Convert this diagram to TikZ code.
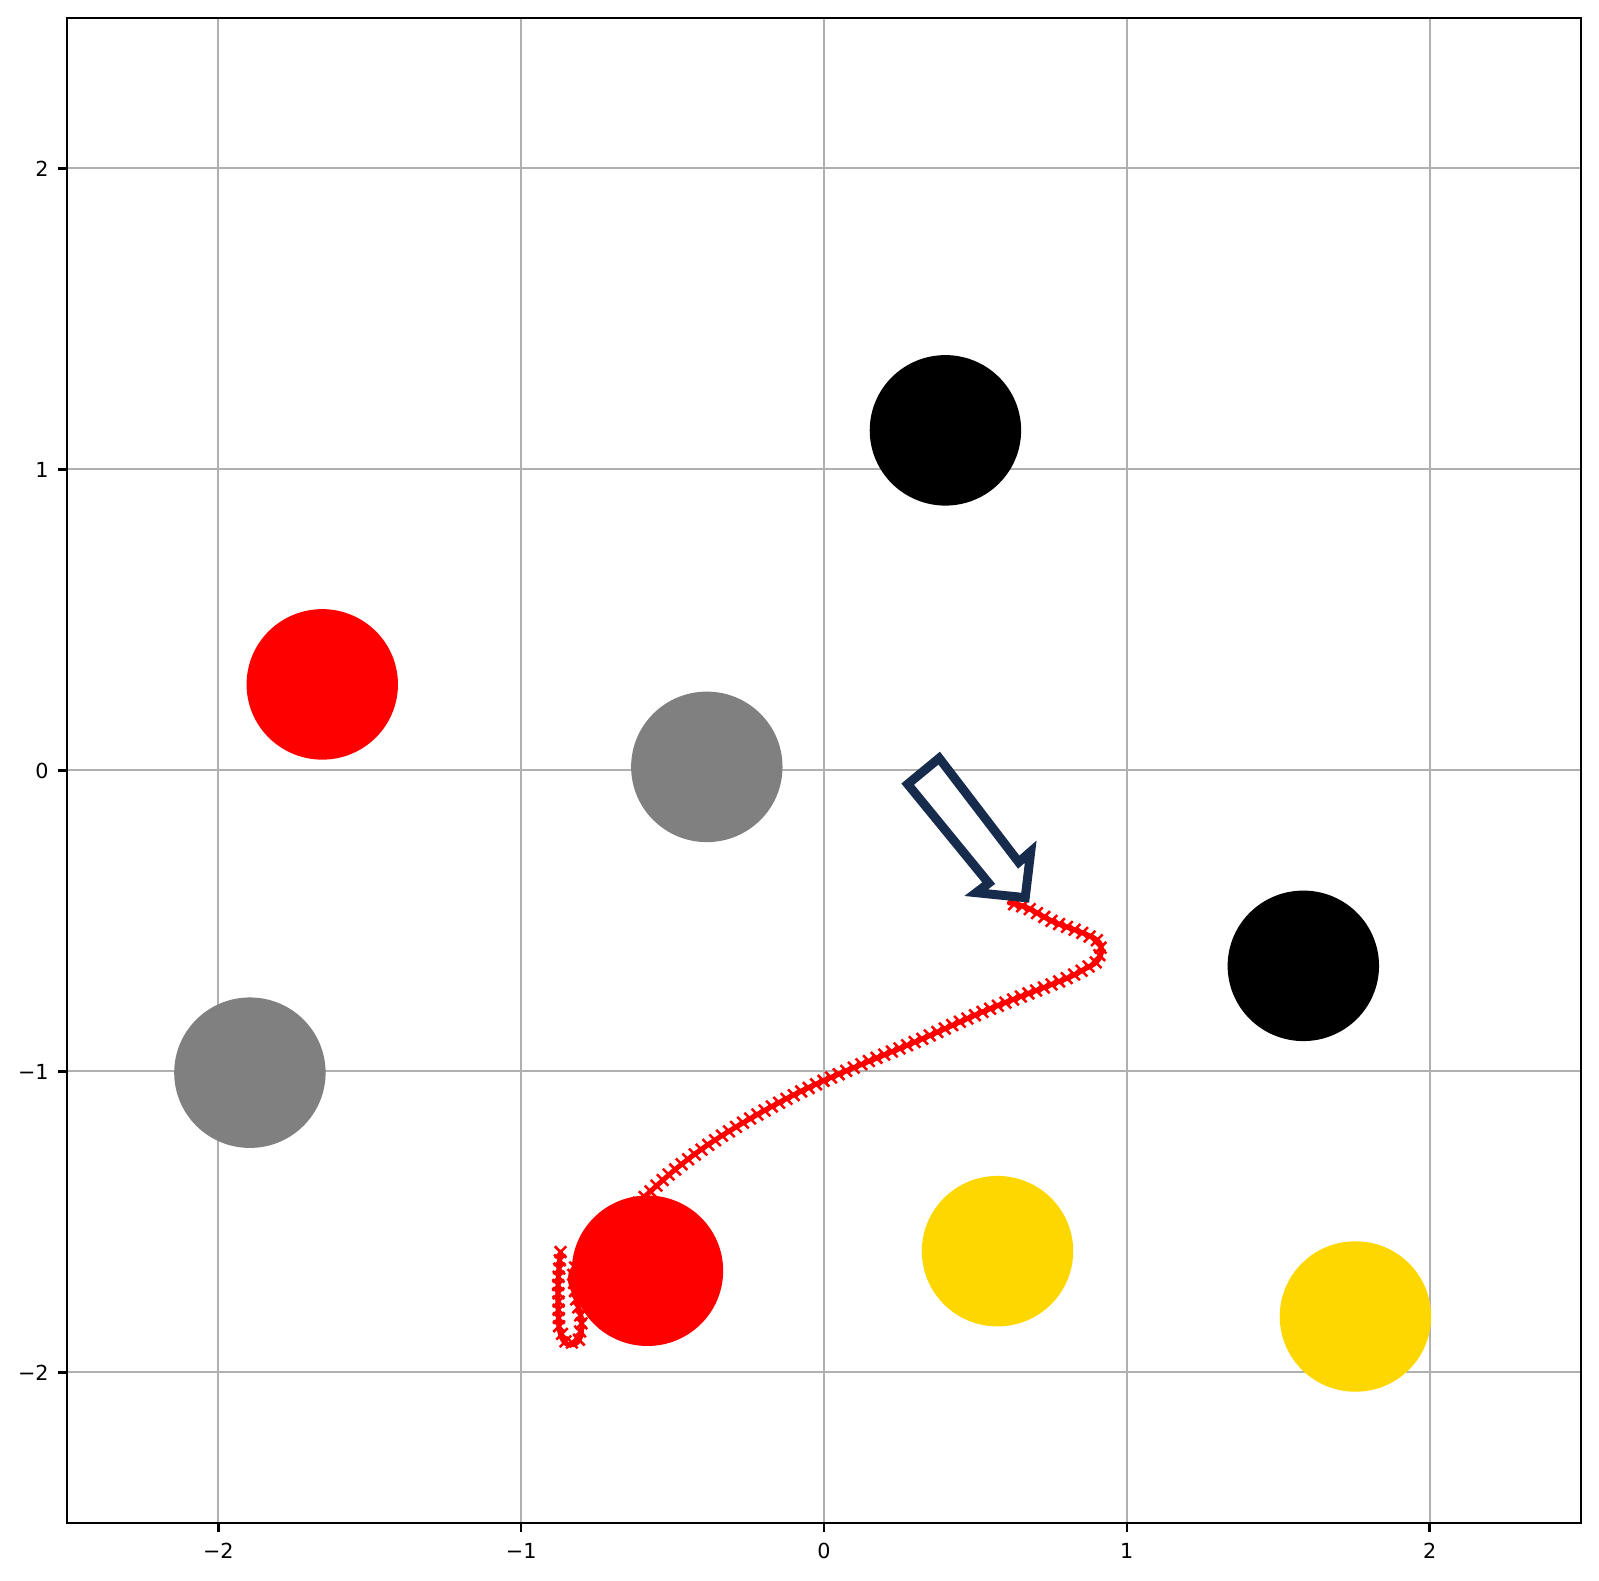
\documentclass[tikz,border=0pt]{standalone}
\usepackage{fontspec}
\setmainfont{DejaVu Sans}
\usetikzlibrary{decorations.markings}
\definecolor{gridgray}{RGB}{176,176,176}
\definecolor{arrownavy}{RGB}{23,43,77}
\definecolor{ballgold}{RGB}{255,215,0}
\definecolor{ballgray}{RGB}{128,128,128}
\tikzset{
  gridline/.style={gridgray, line width=0.04cm},
  frameline/.style={black, line width=0.05cm},
  tickline/.style={black, line width=0.05cm},
  ticklabel/.style={font=\fontsize{11.8pt}{13pt}\selectfont, inner sep=0pt},
  ball/.style={fill=#1},
  trajline/.style={red, line width=0.1cm, line join=round, line cap=round},
  trajmarks/.style={
    postaction={decorate},
    decoration={markings,
      mark=between positions 0 and 1 step 0.165cm with {
        \pgftransformresetnontranslations
        \draw[red, line width=0.05cm] (-0.115cm,-0.115cm) -- (0.115cm,0.115cm)
                                     (-0.115cm,0.115cm) -- (0.115cm,-0.115cm);}}},
  blockarrow/.style={draw=arrownavy, fill=white, line width=0.18cm, line join=miter, miter limit=10}
}
\begin{document}
\begin{tikzpicture}
\useasboundingbox (0,0) rectangle (31.98,31.62);
\begin{scope}[shift={(16.48cm,16.21cm)}, x=6.056cm, y=6.02cm]
  % grid
  \foreach \v in {-2,-1,0,1,2} {
    \draw[gridline] (\v,-2.5) -- (\v,2.5);
    \draw[gridline] (-2.5,\v) -- (2.5,\v);
  }
  % trajectory line
  \draw[trajline] plot[smooth, tension=0.6] coordinates {
    (-0.87,-1.60) (-0.878,-1.70) (-0.875,-1.85) (-0.85,-1.905) (-0.81,-1.895)
    (-0.80,-1.83) (-0.82,-1.75) (-0.83,-1.66) (-0.70,-1.52) (-0.575,-1.40)
    (-0.46,-1.30) (-0.343,-1.217) (-0.17,-1.115) (0,-1.03) (0.317,-0.895)
    (0.54,-0.795) (0.789,-0.696) (0.855,-0.663) (0.901,-0.635) (0.917,-0.596)
    (0.901,-0.563) (0.845,-0.536) (0.756,-0.502) (0.669,-0.455) (0.612,-0.440)};
  % trajectory markers
  \path[trajmarks] plot coordinates {
    (-0.87,-1.60) (-0.878,-1.70) (-0.875,-1.85) (-0.85,-1.905) (-0.81,-1.895)
    (-0.80,-1.83) (-0.82,-1.75) (-0.83,-1.66) (-0.70,-1.52) (-0.575,-1.40)
    (-0.52,-1.348) (-0.46,-1.30) (-0.40,-1.256) (-0.343,-1.217) (-0.26,-1.165)
    (-0.17,-1.115) (-0.085,-1.071) (0,-1.03) (0.16,-0.96) (0.317,-0.895)
    (0.43,-0.843) (0.54,-0.795) (0.67,-0.743) (0.789,-0.696) (0.855,-0.663)
    (0.901,-0.635) (0.917,-0.596) (0.901,-0.563) (0.845,-0.536) (0.756,-0.502)
    (0.669,-0.455) (0.612,-0.440)};
  % balls
  \fill[ball=black]     (0.401,1.130)   circle[radius=0.25];
  \fill[ball=black]     (1.583,-0.649)  circle[radius=0.25];
  \fill[ball=red]       (-1.657,0.286)  circle[radius=0.25];
  \fill[ball=red]       (-0.583,-1.662) circle[radius=0.25];
  \fill[ball=ballgray]  (-0.387,0.012)  circle[radius=0.25];
  \fill[ball=ballgray]  (-1.896,-1.004) circle[radius=0.25];
  \fill[ball=ballgold]  (0.573,-1.597)  circle[radius=0.25];
  \fill[ball=ballgold]  (1.755,-1.814)  circle[radius=0.25];
  % frame
  \draw[frameline] (-2.5,-2.5) rectangle (2.5,2.5);
  % ticks and labels
  \foreach \v/\t in {-2/−2,-1/−1,0/0,1/1,2/2} {
    \draw[tickline] (\v,-2.5) -- ++(0,-0.18cm);
    \draw[tickline] (-2.5,\v) -- ++(-0.18cm,0);
    \node[ticklabel, anchor=north] (xl\v) at ([yshift=-0.40cm]\v,-2.5) {\t};
    \node[ticklabel, anchor=east] (yl\v) at ([xshift=-0.36cm]-2.5,\v) {\t};
  }
\end{scope}
% block arrow (pixel coordinates)
\begin{scope}[shift={(0cm,31.62cm)}, x=0.02cm, y=-0.02cm]
  \draw[blockarrow] (907.5,784) -- (939,758) -- (1018.5,862) -- (1030.5,851.5)
    -- (1025,897.5) -- (976,892.5) -- (988.5,883) -- cycle;
\end{scope}
\end{tikzpicture}
\end{document}
